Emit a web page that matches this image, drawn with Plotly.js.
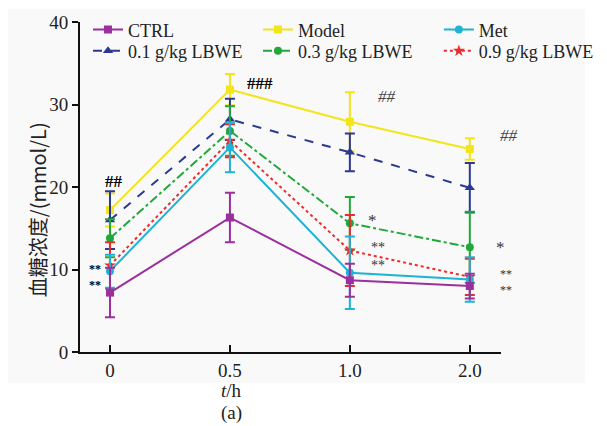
<!DOCTYPE html>
<html><head><meta charset="utf-8">
<script src="https://cdn.plot.ly/plotly-3.0.1.min.js"></script>
<style>html,body{margin:0;padding:0;background:#fff}#chart{width:607px;height:426px}</style>
</head><body><div id="chart"></div>
<script>
var times = ['0', '0.5', '1.0', '2.0'];
var seriesNames = ['CTRL', 'Model', 'Met', '0.1 g/kg LBWE', '0.3 g/kg LBWE', '0.9 g/kg LBWE'];
var ctrl = [7.2, 16.3, 8.7, 8.0];
var ctrlErr = [3.0, 3.0, 2.0, 1.5];
var model = [17.2, 31.8, 27.9, 24.6];
var modelErr = [2.0, 1.9, 3.6, 1.3];
var met = [9.8, 24.8, 9.6, 8.8];
var metErr = [2.0, 3.0, 4.4, 2.7];
var lbwe01 = [16.0, 28.2, 24.2, 19.9];
var lbwe01Err = [3.5, 2.5, 2.3, 3.0];
var lbwe03 = [13.8, 26.8, 15.6, 12.7];
var lbwe03Err = [2.3, 3.0, 3.2, 4.3];
var lbwe09 = [10.5, 25.6, 12.3, 9.1];
var lbwe09Err = [2.8, 2.0, 4.3, 2.2];
var yTicks = [0, 10, 20, 30, 40];

var styles = [
  {c: '#9b2f9e', dash: 'solid', sym: 'square', size: 8},
  {c: '#f2e51a', dash: 'solid', sym: 'square', size: 8},
  {c: '#1eb3d2', dash: 'solid', sym: 'circle', size: 8},
  {c: '#2b3990', dash: 'dash', sym: 'triangle-up', size: 9},
  {c: '#21a83a', dash: 'dashdot', sym: 'circle', size: 8},
  {c: '#ee2a2a', dash: 'dot', sym: 'star', size: 9}
];
var legendIds = ['legend', 'legend2', 'legend3', 'legend4', 'legend5', 'legend6'];
var legendPos = [[0.145, 0.93], [0.425, 0.93], [0.723, 0.93], [0.145, 0.88], [0.425, 0.88], [0.723, 0.88]];
var ys = [ctrl, model, met, lbwe01, lbwe03, lbwe09];
var es = [ctrlErr, modelErr, metErr, lbwe01Err, lbwe03Err, lbwe09Err];
var drawOrder = [1, 3, 4, 5, 2, 0];
var traces = drawOrder.map(function(i){
  var s = styles[i];
  return {
    x: times, y: ys[i], name: seriesNames[i], type: 'scatter', mode: 'lines+markers',
    legend: legendIds[i],
    line: {color: s.c, width: 2, dash: s.dash},
    marker: {color: s.c, symbol: s.sym, size: s.size},
    error_y: {type: 'data', array: es[i], visible: true, color: s.c, thickness: 2, width: 5}
  };
});

function ann(xi, y, text, xs, ysh, opt) {
  opt = opt || {};
  return {x: xi, y: y, xref: 'x', yref: 'y', text: text, showarrow: false, xshift: xs, yshift: ysh,
    font: {family: 'Liberation Serif, Times New Roman, serif', size: opt.size || 17, color: opt.color || '#222'}};
}
var annotations = [
  ann(0, 20.7, '<b>##</b>', 4, 0, {color: '#000'}),
  ann(0, 9.5, '<b>**<br>**</b>', -15, -3, {color: '#000', size: 12}),
  ann(1, 32.6, '<b>###</b>', 30, 0, {color: '#000'}),
  ann(2, 31.0, '<i>##</i>', 37, 0, {color: '#444'}),
  ann(2, 16.4, '*', 23, -4, {color: '#333', size: 17}),
  ann(2, 11.95, '**<br>**', 28, -3.5, {color: '#333', size: 14}),
  ann(3, 26.2, '<i>##</i>', 39, 0, {color: '#444'}),
  ann(3, 13.1, '*', 31, -4, {color: '#333', size: 17}),
  ann(3, 8.8, '**<br>**', 36, -3, {color: '#333', size: 12}),
  {x: -0.102, y: 0.43, xref: 'paper', yref: 'paper', xanchor: 'center', yanchor: 'middle', text: '血糖浓度/(mmol/L)', textangle: -90, showarrow: false,
   font: {family: 'Noto Sans CJK SC, Liberation Serif, serif', size: 20, color: '#222'}},
  {x: 0.361, y: -0.118, xref: 'paper', yref: 'paper', xanchor: 'center', yanchor: 'middle', text: '<i>t</i>/h', showarrow: false,
   font: {family: 'Liberation Serif, serif', size: 19, color: '#222'}},
  {x: 0.361, y: -0.186, xref: 'paper', yref: 'paper', xanchor: 'center', yanchor: 'middle', text: '(a)', showarrow: false,
   font: {family: 'Liberation Serif, serif', size: 19, color: '#222'}}
];

var layout = {
  width: 607, height: 426,
  margin: {l: 80, r: 106, t: 22, b: 74, autoexpand: false},
  paper_bgcolor: '#ffffff', plot_bgcolor: 'rgba(0,0,0,0)',
  font: {family: 'Liberation Serif, Times New Roman, serif', size: 19, color: '#222'},
  showlegend: true,
  xaxis: {type: 'category', categoryarray: times, categoryorder: 'array', range: [-0.25, 3.26],
    showline: true, linecolor: '#111', linewidth: 2, ticks: 'inside', ticklen: 7, tickwidth: 2, tickcolor: '#111',
    showgrid: false, zeroline: false, tickfont: {size: 19}},
  yaxis: {range: [0, 40], tickvals: yTicks, showline: true, linecolor: '#111', linewidth: 2, ticks: 'outside',
    ticklen: 6, tickwidth: 2, tickcolor: '#111', showgrid: false, zeroline: false, tickfont: {size: 19}},
  shapes: [{type: 'rect', xref: 'paper', yref: 'paper', x0: -0.171, x1: 1.1995, y0: -0.094, y1: 1.039,
    fillcolor: '#f9f9f9', line: {width: 0}, layer: 'below'}],
  annotations: annotations
};
legendIds.forEach(function(id, k){
  layout[id] = {xref: 'container', yref: 'container', x: legendPos[k][0], y: legendPos[k][1],
    xanchor: 'left', yanchor: 'middle', orientation: 'h', bgcolor: 'rgba(0,0,0,0)', itemwidth: 30,
    font: {family: 'Liberation Serif, serif', size: 18, color: '#222'}};
});
Plotly.newPlot('chart', traces, layout, {displayModeBar: false, staticPlot: true});
</script></body></html>
